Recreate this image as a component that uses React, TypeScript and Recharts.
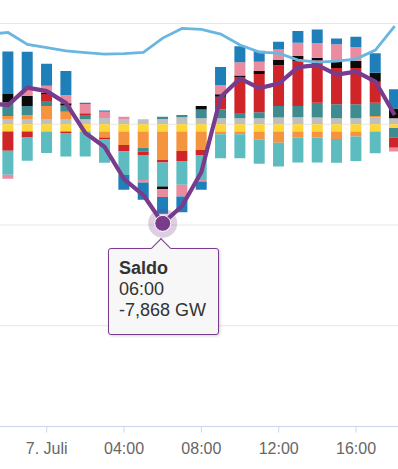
import { ComposedChart, Bar, Line, XAxis, YAxis, CartesianGrid, Tooltip } from 'recharts'

// Grenzüberschreitende Flüsse (GW), stündlich, 6./7. Juli.
// Stunde relativ zu 7. Juli 00:00 (negativ = Vortag).
const STUNDEN = [-3, -2, -1, 0, 1, 2, 3, 4, 5, 6, 7, 8, 9, 10, 11, 12, 13, 14, 15, 16, 17, 18]

// Reihenfolge = Stapelreihenfolge ab der Nulllinie
const GRAU = [null, 0.42, 0.42, 0.42, 0.42, 0.4, 0.5, 0.42, 0.4, 0.42, 0.55, 0.47, 0.47, 0.47, 0.47, 0.53, 0.55, 0.53, 0.47, 0.47, 0.55, 0.47]
const GELB = [null, -0.57, -0.57, -0.57, -0.57, -0.57, -0.57, -0.57, -0.57, -0.57, -0.57, -0.57, -0.57, -0.57, -0.57, -0.57, -0.57, -0.57, -0.57, -0.57, -0.57, -0.3]
const ORANGE = [null, 0.24, 0.32, 1.03, 0.58, 0, -0.48, -1.07, -1.29, -2.26, -1.55, -1.47, -0.22, -0.22, -0.67, -0.89, -0.49, -0.49, -0.6, -0.41, 0.1, 0]
const PETROL = [null, 1.06, 0.71, 0.4, 0.48, 0.34, 0, 0, -0.32, 0.18, 0.18, 0.71, 0.71, 0.42, 0.48, 0.91, 0.9, 1.17, 1.12, 1.12, 1.06, -0.78]
const ROT = [null, -1.53, -0.44, 0.56, -0.13, 0.13, -0.12, -0.53, -0.26, -0.21, -0.79, -0.4, 1.0, 2.83, 3.04, 3.25, 3.57, 3.39, 2.87, 2.87, 1.67, -0.79]
const TUERKIS = [null, -1.9, -1.88, -1.72, -1.86, -2.0, -1.88, -1.85, -1.98, -1.9, -1.9, -1.98, -1.9, -1.9, -1.9, -1.9, -1.98, -1.98, -1.88, -1.93, -1.73, 0]
const SCHWARZ = [null, 0.69, 0.79, 0.08, 0.19, 0, 0, 0, 0, -0.21, 0, 0.26, 0.21, 0.15, 0.24, 0.41, 0.4, 0.2, 0.63, 0.58, 0.71, 0.78]
const ROSA = [null, -0.32, 0.48, 0.56, 0.66, 0.74, 0.49, 0.18, -0.21, -0.63, -0.93, -0.13, 0.71, 1.05, 0.74, 0.83, 1.06, 1.17, 1.27, 1.09, 0, -0.29]
const BLAU = [null, 3.36, 3.04, 1.75, 1.9, 0.1, 0.1, -1.19, -1.37, -1.33, -1.24, -0.66, 1.45, 1.27, 0.87, 0.63, 0.93, 1.06, 0.45, 0.82, 1.54, 1.52]

const SALDO = [1.66, 1.52, 2.91, 2.63, 1.68, -0.7, -1.81, -4.35, -5.62, -7.868, -6.49, -3.79, 2.16, 3.63, 2.87, 3.23, 4.54, 4.7, 3.94, 4.18, 3.39, 0.73]
// Preis (EUR/MWh), eigene Achse
const PREIS = [71.3, 72.9, 63.4, 60.9, 58.3, 56.9, 55.7, 56.1, 57.1, 68.4, 76.1, 75.3, 71.6, 62.9, 57.3, 56.5, 51.0, 49.4, 50.2, 51.7, 58.9, 77.9]

const X_TICKS = [0, 4, 8, 12, 16]
const Y_TICKS = [-24, -16, -8, 0, 8]

const SERIEN = [
  { key: 'grau', werte: GRAU, farbe: '#bfbfbf' },
  { key: 'gelb', werte: GELB, farbe: '#fdd63a' },
  { key: 'orange', werte: ORANGE, farbe: '#f5943f' },
  { key: 'petrol', werte: PETROL, farbe: '#3e8c8f' },
  { key: 'rot', werte: ROT, farbe: '#cf2528' },
  { key: 'tuerkis', werte: TUERKIS, farbe: '#5dbcc0' },
  { key: 'schwarz', werte: SCHWARZ, farbe: '#0a0a0a' },
  { key: 'rosa', werte: ROSA, farbe: '#ea8c9f' },
  { key: 'blau', werte: BLAU, farbe: '#1f7fb9' },
]

const SALDO_FARBE = '#793b8c'
const PREIS_FARBE = '#6ab6e1'
const FONT = '"Liberation Sans", Arial, sans-serif'

const data = STUNDEN.map((h, i) => {
  const row: Record<string, number | null> = { stunde: h, saldo: SALDO[i], preis: PREIS[i] }
  SERIEN.forEach((s) => {
    row[s.key] = s.werte[i]
  })
  return row
})

const fmtStunde = (h: number) => {
  if (h === 0) return '7. Juli'
  const hh = ((h % 24) + 24) % 24
  return `${String(hh).padStart(2, '0')}:00`
}

function SaldoTooltip({ active, payload, label }: any) {
  if (!active || !payload) return null
  const saldo = payload.find((p: any) => p.dataKey === 'saldo')
  if (!saldo) return null
  const wert = Number(saldo.value).toLocaleString('de-DE', { minimumFractionDigits: 3 })
  return (
    <div
      style={{
        position: 'relative',
        marginTop: 9.5,
        width: 111,
        height: 87,
        boxSizing: 'border-box',
        background: '#f7f7f7',
        border: `1.5px solid ${SALDO_FARBE}`,
        borderRadius: 3,
        boxShadow: '1px 1px 3px rgba(0,0,0,0.18)',
        padding: '9px 0 0 10px',
        fontFamily: FONT,
        fontSize: 18,
        lineHeight: '21px',
        color: '#333',
        whiteSpace: 'nowrap',
      }}
    >
      <div
        style={{
          position: 'absolute',
          left: 45,
          top: -8,
          width: 13,
          height: 13,
          background: '#f7f7f7',
          borderLeft: `1.5px solid ${SALDO_FARBE}`,
          borderTop: `1.5px solid ${SALDO_FARBE}`,
          transform: 'rotate(45deg)',
        }}
      />
      <div style={{ position: 'relative', fontWeight: 'bold' }}>Saldo</div>
      <div style={{ position: 'relative' }}>{fmtStunde(Number(label))}</div>
      <div style={{ position: 'relative' }}>{wert} GW</div>
    </div>
  )
}

export default function App() {
  return (
    <div
      style={{
        position: 'fixed',
        left: 0,
        top: 0,
        width: 398,
        height: 469,
        overflow: 'hidden',
        background: '#fff',
      }}
    >
      <ComposedChart
        width={398}
        height={469}
        data={data}
        stackOffset="sign"
        barSize={11}
        margin={{ top: 23.5, right: 0, bottom: 0, left: 0 }}
      >
        <CartesianGrid vertical={false} stroke="#e6e6e6" />
        <XAxis
          dataKey="stunde"
          type="number"
          domain={[-2.416, 18.17]}
          allowDataOverflow
          ticks={X_TICKS}
          interval={0}
          tickFormatter={fmtStunde}
          height={42.5}
          tickSize={6}
          tickMargin={10}
          axisLine={{ stroke: '#ccd6eb' }}
          tickLine={{ stroke: '#ccd6eb' }}
          tick={{ fill: '#666', fontSize: 16, fontFamily: FONT }}
        />
        <YAxis hide domain={[-24, 8]} ticks={Y_TICKS} allowDataOverflow />
        <YAxis yAxisId="preis" hide domain={[-240, 80]} allowDataOverflow />
        {SERIEN.map((s) => (
          <Bar key={s.key} dataKey={s.key} stackId="fluss" fill={s.farbe} isAnimationActive={false} />
        ))}
        <Line
          yAxisId="preis"
          dataKey="preis"
          type="linear"
          stroke={PREIS_FARBE}
          strokeWidth={2.8}
          dot={false}
          activeDot={false}
          isAnimationActive={false}
        />
        <Line
          dataKey="saldo"
          type="linear"
          stroke={SALDO_FARBE}
          strokeWidth={4.2}
          strokeLinejoin="round"
          dot={false}
          activeDot={(p: any) => (
            <g key="saldo-aktiv">
              <circle cx={p.cx} cy={p.cy} r={14.5} fill={SALDO_FARBE} fillOpacity={0.25} />
              <circle cx={p.cx} cy={p.cy} r={8} fill={SALDO_FARBE} stroke="#fff" strokeWidth={1} />
            </g>
          )}
          isAnimationActive={false}
        />
        <Tooltip
          content={<SaldoTooltip />}
          defaultIndex={9}
          position={{ x: 108, y: 238 }}
          cursor={false}
          isAnimationActive={false}
          wrapperStyle={{ outline: 'none' }}
        />
      </ComposedChart>
    </div>
  )
}
